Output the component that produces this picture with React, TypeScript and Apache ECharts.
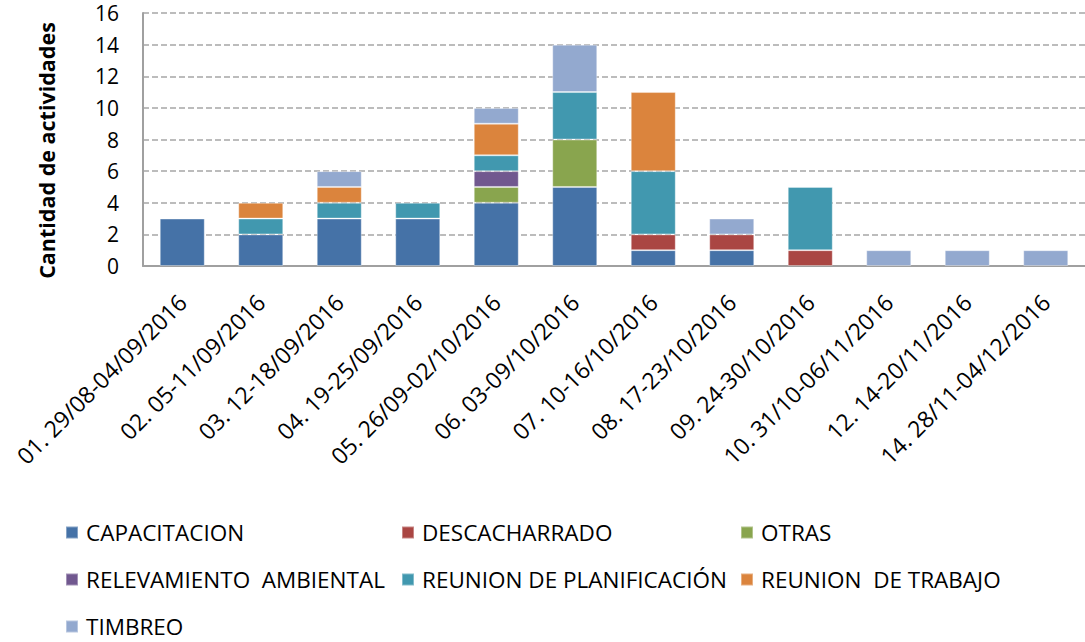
import React, { useEffect, useRef } from "react";
import * as echarts from "echarts";

const categories = [
  "01. 29/08-04/09/2016",
  "02. 05-11/09/2016",
  "03. 12-18/09/2016",
  "04. 19-25/09/2016",
  "05. 26/09-02/10/2016",
  "06. 03-09/10/2016",
  "07. 10-16/10/2016",
  "08. 17-23/10/2016",
  "09. 24-30/10/2016",
  "10. 31/10-06/11/2016",
  "12. 14-20/11/2016",
  "14. 28/11-04/12/2016",
];

const capacitacion = [3, 2, 3, 3, 4, 5, 1, 1, 0, 0, 0, 0];
const descacharrado = [0, 0, 0, 0, 0, 0, 1, 1, 1, 0, 0, 0];
const otras = [0, 0, 0, 0, 1, 3, 0, 0, 0, 0, 0, 0];
const relevamiento = [0, 0, 0, 0, 1, 0, 0, 0, 0, 0, 0, 0];
const reunionPlanificacion = [0, 1, 1, 1, 1, 3, 4, 0, 4, 0, 0, 0];
const reunionTrabajo = [0, 1, 1, 0, 2, 0, 5, 0, 0, 0, 0, 0];
const timbreo = [0, 0, 1, 0, 1, 3, 0, 1, 0, 1, 1, 1];

const seriesDefs = [
  { name: "CAPACITACION", data: capacitacion, color: "#4572A7" },
  { name: "DESCACHARRADO", data: descacharrado, color: "#AA4643" },
  { name: "OTRAS", data: otras, color: "#89A54E" },
  { name: "RELEVAMIENTO  AMBIENTAL", data: relevamiento, color: "#71588F" },
  { name: "REUNION DE PLANIFICACIÓN", data: reunionPlanificacion, color: "#4198AF" },
  { name: "REUNION  DE TRABAJO", data: reunionTrabajo, color: "#DB843D" },
  { name: "TIMBREO", data: timbreo, color: "#93A9CF" },
];

const yTicks = { min: 0, max: 16, interval: 2 };

const FONT = "'Open Sans', 'DejaVu Sans', sans-serif";

export default function App() {
  const ref = useRef<HTMLDivElement>(null);
  useEffect(() => {
    if (!ref.current) return;
    const chart = echarts.init(ref.current, null, { renderer: "svg" });
    const legendCommon = {
      orient: "vertical" as const,
      top: 521,
      height: 140,
      padding: 0,
      itemWidth: 12,
      itemHeight: 12,
      itemGap: 24,
      icon: "rect",
      textStyle: { fontFamily: FONT, fontSize: 22.5, color: "#000", lineHeight: 22, padding: [0, 0, 0, 3] },
      selectedMode: false,
    };
    chart.setOption({
      animation: false,
      backgroundColor: "#fff",
      grid: { left: 143, top: 13, width: 951, height: 253, containLabel: false },
      legend: [
        { ...legendCommon, left: 65, data: [seriesDefs[0].name, seriesDefs[3].name, seriesDefs[6].name] },
        { ...legendCommon, left: 401, data: [seriesDefs[1].name, seriesDefs[4].name] },
        { ...legendCommon, left: 740, data: [seriesDefs[2].name, seriesDefs[5].name] },
      ],
      xAxis: {
        type: "category",
        data: categories,
        axisLine: { show: true, lineStyle: { color: "#A0A0A0", width: 2 } },
        axisTick: { show: false },
        axisLabel: {
          interval: 0,
          rotate: 45,
          margin: 32,
          fontFamily: FONT,
          fontSize: 23,
          color: "#000",
        },
      },
      yAxis: {
        type: "value",
        min: yTicks.min,
        max: yTicks.max,
        interval: yTicks.interval,
        name: "Cantidad de actividades",
        nameLocation: "middle",
        nameGap: 86,
        nameTextStyle: {
          fontFamily: FONT,
          fontSize: 21.5,
          fontWeight: "bold",
          color: "#000",
          padding: [0, 22, 0, 0],
        },
        axisLine: { show: true, lineStyle: { color: "#A0A0A0", width: 2 } },
        axisTick: { show: false },
        axisLabel: { fontFamily: FONT, fontSize: 21, color: "#000", margin: 24 },
        splitLine: { show: true, lineStyle: { color: "#A6A6A6", width: 1.5, type: [6, 3] } },
      },
      series: seriesDefs.map((s) => ({
        name: s.name,
        type: "bar",
        stack: "total",
        barWidth: 45,
        data: s.data.map((v) => (v === 0 ? null : v)),
        itemStyle: { color: s.color, borderColor: "rgba(255,255,255,0.35)", borderWidth: 1 },
      })),
    });
    return () => chart.dispose();
  }, []);
  return (
    <div
      ref={ref}
      style={{ position: "absolute", left: 0, top: 0, width: 1085, height: 642 }}
    />
  );
}
